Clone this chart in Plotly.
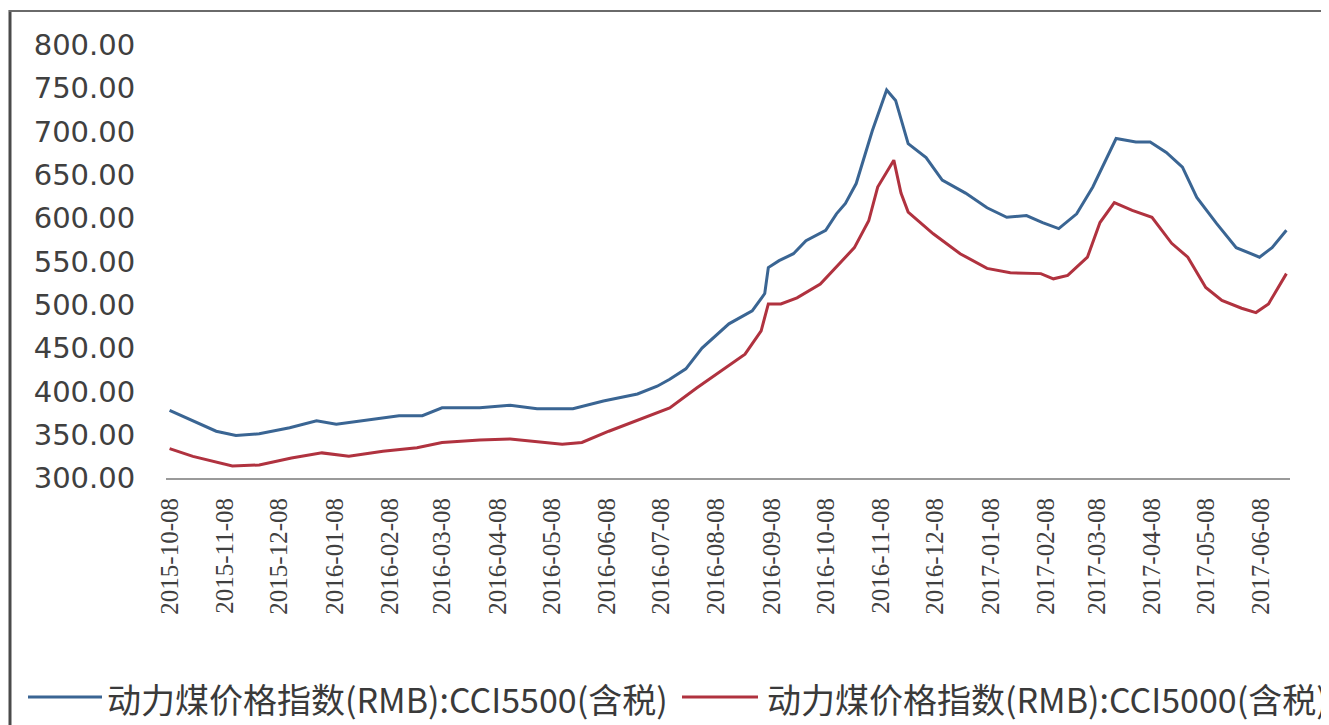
import plotly.graph_objects as go

# CCI5500 (blue)
dates_5500 = ["2015-10-08", "2015-10-21", "2015-11-03", "2015-11-14", "2015-11-27", "2015-12-14",
              "2015-12-29", "2016-01-09", "2016-01-26", "2016-02-13", "2016-02-26", "2016-03-08",
              "2016-03-29", "2016-04-15", "2016-04-30", "2016-05-20", "2016-06-06", "2016-06-25",
              "2016-07-06", "2016-07-13", "2016-07-22", "2016-07-31", "2016-08-15", "2016-08-28",
              "2016-09-04", "2016-09-06", "2016-09-12", "2016-09-20", "2016-09-27", "2016-10-08",
              "2016-10-14", "2016-10-19", "2016-10-25", "2016-10-28", "2016-11-03", "2016-11-11",
              "2016-11-16", "2016-11-23", "2016-12-03", "2016-12-12", "2016-12-25", "2017-01-06",
              "2017-01-17", "2017-01-28", "2017-02-06", "2017-02-15", "2017-02-25", "2017-03-06",
              "2017-03-14", "2017-03-19", "2017-03-30", "2017-04-07", "2017-04-16", "2017-04-25",
              "2017-05-03", "2017-05-14", "2017-05-25", "2017-06-03", "2017-06-07", "2017-06-14",
              "2017-06-22"]
cci5500 = [378, 366, 354, 349, 351, 358,
           366, 362, 367, 372, 372, 381,
           381, 384, 380, 380, 389, 397,
           406, 414, 426, 450, 478, 493,
           513, 543, 551, 559, 574, 586,
           605, 617, 640, 660, 701, 748,
           736, 686, 670, 644, 629, 612,
           601, 603, 595, 588, 605, 636,
           670, 692, 688, 688, 676, 659,
           624, 594, 566, 559, 555, 566,
           586]

# CCI5000 (red)
dates_5000 = ["2015-10-08", "2015-10-21", "2015-11-12", "2015-11-27", "2015-12-15", "2016-01-01",
              "2016-01-16", "2016-02-04", "2016-02-23", "2016-03-08", "2016-03-29", "2016-04-15",
              "2016-05-14", "2016-05-25", "2016-06-09", "2016-06-27", "2016-07-13", "2016-07-28",
              "2016-08-11", "2016-08-24", "2016-09-02", "2016-09-06", "2016-09-13", "2016-09-22",
              "2016-10-05", "2016-10-16", "2016-10-24", "2016-11-01", "2016-11-06", "2016-11-15",
              "2016-11-19", "2016-11-23", "2016-12-07", "2016-12-22", "2017-01-06", "2017-01-19",
              "2017-02-05", "2017-02-12", "2017-02-20", "2017-03-03", "2017-03-10", "2017-03-18",
              "2017-03-28", "2017-04-08", "2017-04-19", "2017-04-28", "2017-05-08", "2017-05-17",
              "2017-05-28", "2017-06-05", "2017-06-12", "2017-06-22"]
cci5000 = [334, 325, 314, 315, 323, 329,
           325, 331, 335, 341, 344, 345,
           339, 341, 354, 368, 381, 404,
           424, 443, 470, 501, 501, 508,
           524, 548, 566, 597, 636, 667,
           629, 607, 582, 559, 542, 537,
           536, 530, 534, 555, 595, 618,
           609, 601, 571, 555, 520, 505,
           496, 491, 501, 536]

tick_dates = ["2015-10-08", "2015-11-08", "2015-12-08", "2016-01-08", "2016-02-08", "2016-03-08",
              "2016-04-08", "2016-05-08", "2016-06-08", "2016-07-08", "2016-08-08", "2016-09-08",
              "2016-10-08", "2016-11-08", "2016-12-08", "2017-01-08", "2017-02-08", "2017-03-08",
              "2017-04-08", "2017-05-08", "2017-06-08"]
y_ticks = [300, 350, 400, 450, 500, 550, 600, 650, 700, 750, 800]

series_names = ["动力煤价格指数(RMB):CCI5500(含税)", "动力煤价格指数(RMB):CCI5000(含税)"]
series_colors = ["#3A6593", "#B0323F"]

fig = go.Figure()
fig.add_trace(go.Scatter(x=dates_5500, y=cci5500, mode="lines", name=series_names[0],
                         line=dict(color=series_colors[0], width=3), showlegend=False))
fig.add_trace(go.Scatter(x=dates_5000, y=cci5000, mode="lines", name=series_names[1],
                         line=dict(color=series_colors[1], width=3), showlegend=False))

W, H = 1329, 725
OFF = 8  # page body margin offset
L, T = 166 - OFF, 45 - OFF
plot_right, plot_bottom = 1290 - OFF, 478 - OFF
R, B = W - plot_right, H - plot_bottom
pw, ph = W - L - R, H - T - B

def px(x):
    return (x - OFF - L) / pw

def py(y):
    return (H - B - (y - OFF)) / ph

frame = dict(type="line", xref="paper", yref="paper", layer="above")
shapes = [
    dict(frame, x0=px(10), x1=px(10), y0=py(10), y1=py(740), line=dict(color="#4a4a4a", width=3)),
    dict(frame, x0=px(9), x1=px(1326), y0=py(11), y1=py(11), line=dict(color="#6a6a6a", width=2)),
    dict(frame, x0=px(1325), x1=px(1325), y0=py(10), y1=py(740), line=dict(color="#8a8a8a", width=2)),
]

# legend drawn by hand (positions in page pixels)
legend_y = 697
legend_line_x = [(28, 102), (682, 758)]
legend_text_x = [105, 765]
annotations = []
for name, color, (x0, x1), tx in zip(series_names, series_colors, legend_line_x, legend_text_x):
    shapes.append(dict(type="line", xref="paper", yref="paper", x0=px(x0), x1=px(x1),
                       y0=py(legend_y), y1=py(legend_y), line=dict(color=color, width=3)))
    annotations.append(dict(xref="paper", yref="paper", x=px(tx), y=py(legend_y + 1),
                            xanchor="left", yanchor="middle", showarrow=False, text=name,
                            font=dict(family="Noto Sans CJK SC", size=34, color="#3a3a3a")))

fig.update_layout(
    width=W, height=H,
    margin=dict(l=L, r=R, t=T, b=B, autoexpand=False),
    paper_bgcolor="white", plot_bgcolor="white",
    showlegend=False,
    shapes=shapes,
    annotations=annotations,
    xaxis=dict(type="date", range=["2015-10-06", "2017-06-24"],
               tickvals=tick_dates, ticktext=tick_dates, tickangle=-90,
               tickfont=dict(family="Liberation Serif", size=25, color="#404040"),
               showgrid=False, zeroline=False, showline=True, linecolor="#9a9a9a", linewidth=2,
               ticks="outside", ticklen=0, ticklabelstandoff=8),
    yaxis=dict(range=[300, 800], tickvals=y_ticks, tickformat=".2f",
               tickfont=dict(family="DejaVu Sans", size=29, color="#404040"),
               showgrid=False, zeroline=False, showline=False,
               ticks="outside", ticklen=0, ticklabelstandoff=24),
)

fig.write_html("out.html")
